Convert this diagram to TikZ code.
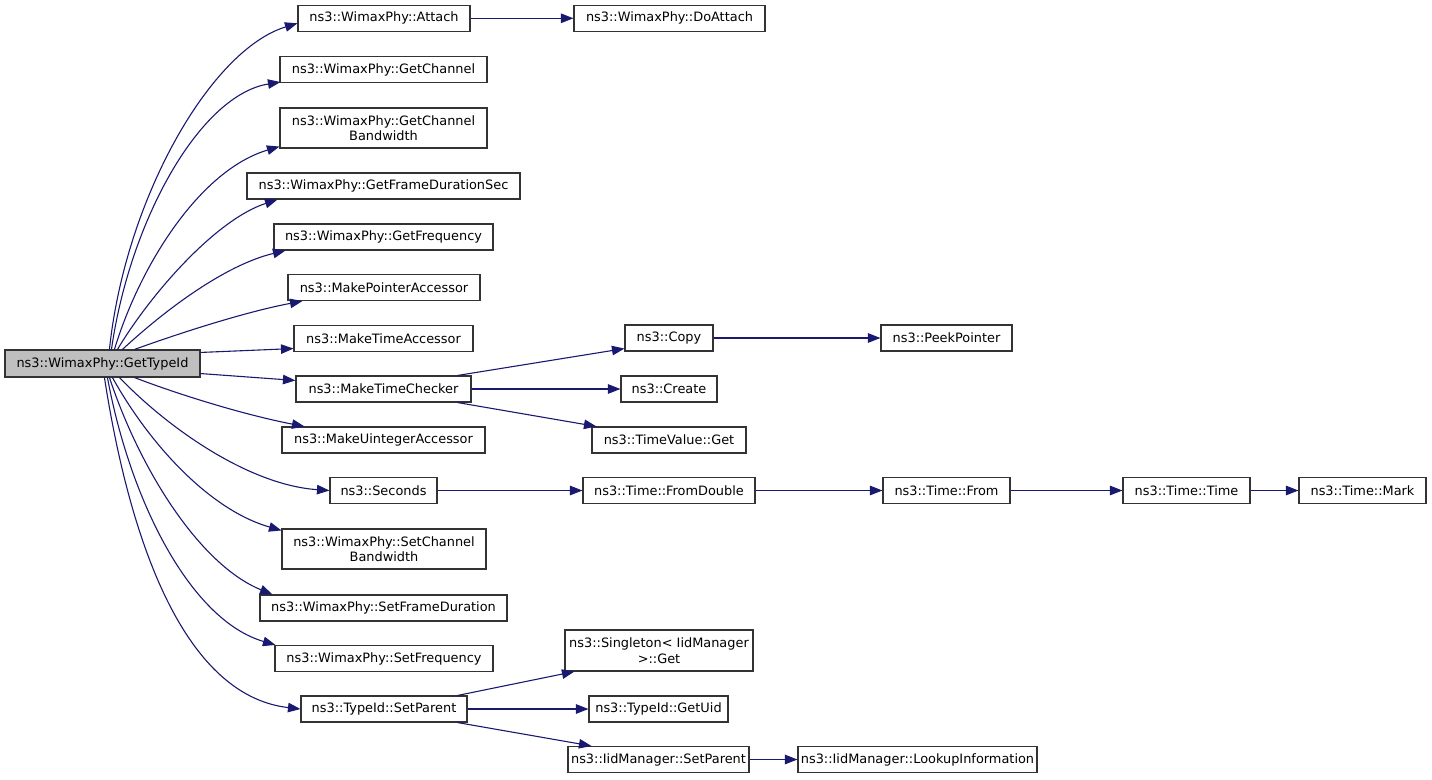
\documentclass[tikz,border=0pt]{standalone}
\usepackage{fontspec}
\setmainfont{DejaVu Sans}
\usetikzlibrary{arrows.meta,calc}
\definecolor{edgeblue}{HTML}{191970}
\definecolor{boxgray}{HTML}{BFBFBF}
\begin{document}
\begin{tikzpicture}[x=1pt,y=-1pt,
  box/.style={draw=black!80,line width=1.1pt,inner sep=0pt,minimum height=26pt,align=center,font=\fontsize{12.9}{15.5}\selectfont},
  tall/.style={minimum height=40pt},
  call/.style={draw=edgeblue,line width=1.1pt,-{Triangle[length=12.5pt,width=9.5pt]}}]
\useasboundingbox (0,0) rectangle (1432,779);
% nodes
\node[box,fill=boxgray,minimum width=195pt,minimum height=27pt] (main) at (102.5,363.5) {ns3::WimaxPhy::GetTypeId};
\node[box,minimum width=172pt] (attach) at (384,18.3) {ns3::WimaxPhy::Attach};
\node[box,minimum width=207pt] (getch) at (383.5,69.5) {ns3::WimaxPhy::GetChannel};
\node[box,tall,minimum width=207pt] (getchbw) at (383.5,128) {ns3::WimaxPhy::GetChannel\\Bandwidth};
\node[box,minimum width=273pt] (gfds) at (383.5,186) {ns3::WimaxPhy::GetFrameDurationSec};
\node[box,minimum width=219pt] (gfreq) at (383.5,237) {ns3::WimaxPhy::GetFrequency};
\node[box,minimum width=192pt] (mpa) at (384,287.5) {ns3::MakePointerAccessor};
\node[box,minimum width=179pt] (mta) at (383.5,338.5) {ns3::MakeTimeAccessor};
\node[box,minimum width=175pt] (mtc) at (383.5,389) {ns3::MakeTimeChecker};
\node[box,minimum width=203pt] (mua) at (383.5,440) {ns3::MakeUintegerAccessor};
\node[box,minimum width=107pt] (sec) at (383.5,490.5) {ns3::Seconds};
\node[box,tall,minimum width=204pt] (scbw) at (384,549) {ns3::WimaxPhy::SetChannel\\Bandwidth};
\node[box,minimum width=247pt] (sfd) at (383.5,608) {ns3::WimaxPhy::SetFrameDuration};
\node[box,minimum width=218pt] (sfreq) at (384,658.5) {ns3::WimaxPhy::SetFrequency};
\node[box,minimum width=166pt] (tsp) at (384,709) {ns3::TypeId::SetParent};
% column 2
\node[box,minimum width=191pt] (doattach) at (669.5,18.3) {ns3::WimaxPhy::DoAttach};
\node[box,minimum width=88pt] (copy) at (669,338) {ns3::Copy};
\node[box,minimum width=96pt] (create) at (669,389) {ns3::Create};
\node[box,minimum width=154pt] (tvget) at (669,440) {ns3::TimeValue::Get};
\node[box,minimum width=172pt] (fromdouble) at (669,490.5) {ns3::Time::FromDouble};
\node[box,minimum width=188pt,minimum height=41pt] (singleton) at (659,650.5) {ns3::Singleton< IidManager\\ >::Get};
\node[box,minimum width=139pt] (getuid) at (658.5,709) {ns3::TypeId::GetUid};
\node[box,minimum width=181pt] (iidsp) at (658.5,759.5) {ns3::IidManager::SetParent};
% column 3+
\node[box,minimum width=131pt] (peek) at (946.5,338) {ns3::PeekPointer};
\node[box,minimum width=127pt] (from) at (946.5,490.5) {ns3::Time::From};
\node[box,minimum width=239pt] (lookup) at (917.5,759.5) {ns3::IidManager::LookupInformation};
\node[box,minimum width=127pt] (ttime) at (1186.5,490.5) {ns3::Time::Time};
\node[box,minimum width=127pt] (mark) at (1362.5,490.5) {ns3::Time::Mark};
% edges from main, upward
\draw[call] ($(main.north west)+(105,0)$) .. controls (125,200) and (210,50) .. ($(attach.west)+(0,5)$);
\draw[call] ($(main.north west)+(107,0)$) .. controls (130,220) and (200,95) .. ($(getch.south west)+(1,-1)$);
\draw[call] ($(main.north west)+(110,0)$) .. controls (140,265) and (200,170) .. ($(getchbw.south west)+(0,-2)$);
\draw[call] ($(main.north west)+(113,0)$) .. controls (150,295) and (215,220) .. ($(gfds.south west)+(31,0)$);
\draw[call] ($(main.north west)+(118,0)$) .. controls (165,310) and (225,265) .. ($(gfreq.south west)+(12,0)$);
\draw[call] ($(main.north west)+(130,0)$) .. controls (180,333) and (245,312) .. ($(mpa.south west)+(15,0)$);
\draw[call] ($(main.north east)+(0,3)$) -- ($(mta.south west)+(0,-3.5)$);
\draw[call] ($(main.south east)+(0,-4)$) -- ($(mtc.north west)+(0,5)$);
% edges from main, downward
\draw[call] ($(main.south west)+(130,0)$) .. controls (180,395) and (245,415) .. ($(mua.north west)+(23,0)$);
\draw[call] ($(main.south west)+(115,0)$) .. controls (170,430) and (250,485) .. (sec.west);
\draw[call] ($(main.south west)+(108,0)$) .. controls (150,445) and (210,510) .. ($(scbw.north west)+(0,2)$);
\draw[call] ($(main.south west)+(105,0)$) .. controls (140,470) and (200,565) .. ($(sfd.north west)+(13,0)$);
\draw[call] ($(main.south west)+(103,0)$) .. controls (130,500) and (190,620) .. ($(sfreq.north west)+(1,0)$);
\draw[call] ($(main.south west)+(100,0)$) .. controls (128,530) and (180,695) .. (tsp.west);
% other edges
\draw[call] (attach.east) -- (doattach.west);
\draw[call] ($(mtc.north east)+(-14,0)$) -- ($(copy.south west)+(0,-3)$);
\draw[call] (mtc.east) -- (create.west);
\draw[call] ($(mtc.south east)+(-14,0)$) -- ($(tvget.north west)+(5,0)$);
\draw[call] (copy.east) -- (peek.west);
\draw[call] (sec.east) -- (fromdouble.west);
\draw[call] (fromdouble.east) -- (from.west);
\draw[call] (from.east) -- (ttime.west);
\draw[call] (ttime.east) -- (mark.west);
\draw[call] ($(tsp.north east)+(-10,0)$) -- ($(singleton.south west)+(10,0)$);
\draw[call] (tsp.east) -- (getuid.west);
\draw[call] ($(tsp.south east)+(-10,0)$) -- ($(iidsp.north west)+(24,0)$);
\draw[call] (iidsp.east) -- (lookup.west);
\end{tikzpicture}
\end{document}
